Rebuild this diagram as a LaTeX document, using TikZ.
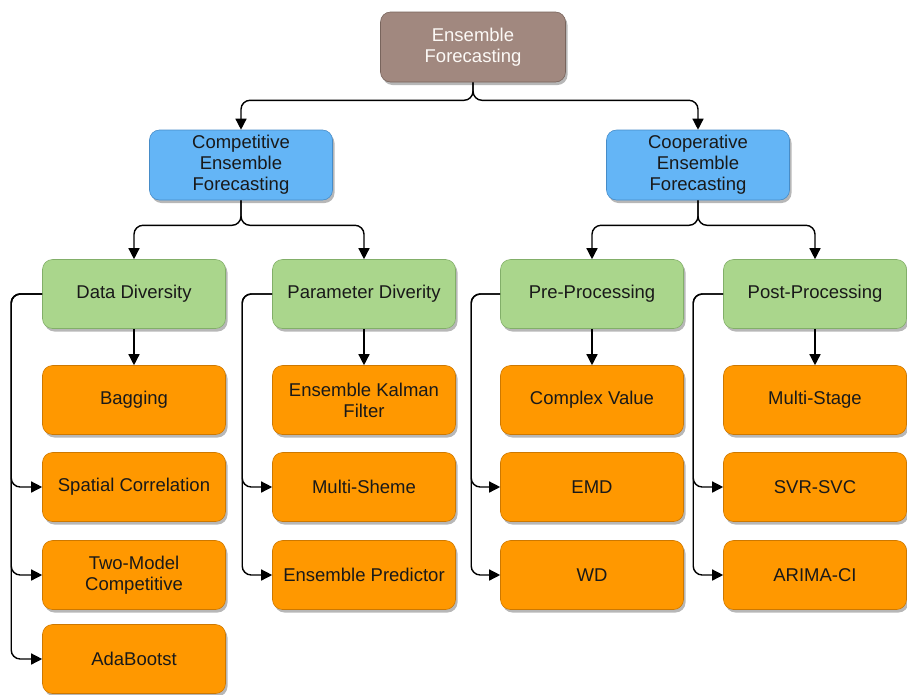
\documentclass[tikz,border=0pt]{standalone}
\usepackage{fontspec}
\setmainfont{Liberation Sans}
\usetikzlibrary{arrows.meta,shadows}
\definecolor{rootfill}{RGB}{161,136,127}
\definecolor{rootdraw}{RGB}{120,100,92}
\definecolor{bluefill}{RGB}{100,181,246}
\definecolor{bluedraw}{RGB}{70,140,200}
\definecolor{greenfill}{RGB}{170,214,140}
\definecolor{greendraw}{RGB}{130,175,105}
\definecolor{orangefill}{RGB}{255,152,0}
\definecolor{orangedraw}{RGB}{205,120,0}
\definecolor{txt}{RGB}{25,25,25}
\tikzset{
  box/.style={rounded corners=10pt, minimum width=183pt, minimum height=69pt,
    inner sep=0pt, align=center, font=\fontsize{18.5}{21}\selectfont, text=txt,
    line width=0.6pt,
    drop shadow={shadow xshift=2pt, shadow yshift=-3pt, opacity=0.4, fill=black!70}},
  rootbox/.style={box, fill=rootfill, draw=rootdraw, text=white!95!brown, minimum width=185pt, minimum height=70pt},
  bluebox/.style={box, fill=bluefill, draw=bluedraw, minimum height=70pt},
  greenbox/.style={box, fill=greenfill, draw=greendraw},
  orangebox/.style={box, fill=orangefill, draw=orangedraw},
  arr/.style={line width=1.4pt, black, rounded corners=9pt, -{Triangle[length=11pt,width=11pt]}}
}
\begin{document}
\begin{tikzpicture}[x=1pt,y=-1pt]
\useasboundingbox (0,0) rectangle (907,694);

% top levels
\node[rootbox] (root) at (473,47) {Ensemble\\Forecasting};
\node[bluebox] (comp) at (241,165) {Competitive\\Ensemble\\Forecasting};
\node[bluebox] (coop) at (698,165) {Cooperative\\Ensemble\\Forecasting};

% second level
\node[greenbox] (dd) at (134,294) {Data Diversity};
\node[greenbox] (pd) at (364,294) {Parameter Diverity};
\node[greenbox] (pre) at (592,294) {Pre-Processing};
\node[greenbox] (post) at (815,294) {Post-Processing};

% leaves: data diversity
\node[orangebox] (bag) at (134,400) {Bagging};
\node[orangebox] (spat) at (134,487) {Spatial Correlation};
\node[orangebox] (two) at (134,575) {Two-Model\\Competitive};
\node[orangebox] (ada) at (134,659) {AdaBootst};

% leaves: parameter diversity
\node[orangebox] (ekf) at (364,400) {Ensemble Kalman\\Filter};
\node[orangebox] (ms) at (364,487) {Multi-Sheme};
\node[orangebox] (ep) at (364,575) {Ensemble Predictor};

% leaves: pre-processing
\node[orangebox] (cv) at (592,400) {Complex Value};
\node[orangebox] (emd) at (592,487) {EMD};
\node[orangebox] (wd) at (592,575) {WD};

% leaves: post-processing
\node[orangebox] (mst) at (815,400) {Multi-Stage};
\node[orangebox] (svr) at (815,487) {SVR-SVC};
\node[orangebox] (ari) at (815,575) {ARIMA-CI};

% tree connectors
\draw[arr] (root.south) -- ++(0,18) -| (comp.north);
\draw[arr] (root.south) -- ++(0,18) -| (coop.north);
\draw[arr] (comp.south) -- ++(0,25) -| (dd.north);
\draw[arr] (comp.south) -- ++(0,25) -| (pd.north);
\draw[arr] (coop.south) -- ++(0,25) -| (pre.north);
\draw[arr] (coop.south) -- ++(0,25) -| (post.north);

% first leaf straight below each group
\draw[arr] (dd.south) -- (bag.north);
\draw[arr] (pd.south) -- (ekf.north);
\draw[arr] (pre.south) -- (cv.north);
\draw[arr] (post.south) -- (mst.north);

% side trunks
\draw[arr] (dd.west) -- ++(-31,0) |- (spat.west);
\draw[arr] (dd.west) -- ++(-31,0) |- (two.west);
\draw[arr] (dd.west) -- ++(-31,0) |- (ada.west);

\draw[arr] (pd.west) -- ++(-30,0) |- (ms.west);
\draw[arr] (pd.west) -- ++(-30,0) |- (ep.west);

\draw[arr] (pre.west) -- ++(-29,0) |- (emd.west);
\draw[arr] (pre.west) -- ++(-29,0) |- (wd.west);

\draw[arr] (post.west) -- ++(-30,0) |- (svr.west);
\draw[arr] (post.west) -- ++(-30,0) |- (ari.west);
\end{tikzpicture}
\end{document}
